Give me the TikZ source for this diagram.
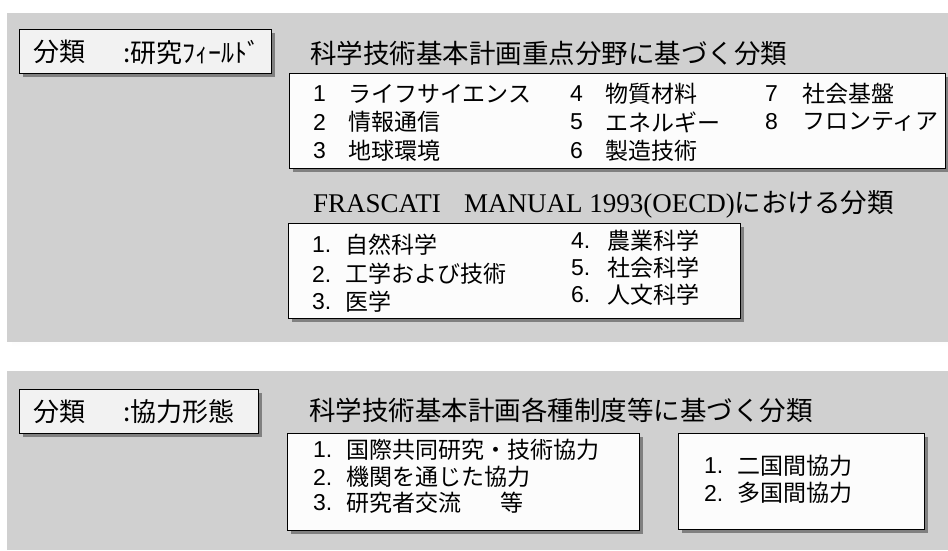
\documentclass[tikz,border=0pt]{standalone}
\usepackage{fontspec}
\usetikzlibrary{shadows}
\newfontfamily\jp{Noto Sans CJK JP}
\newfontfamily\tms{Liberation Serif}
\newfontfamily\ars{Liberation Sans}
\definecolor{panel}{HTML}{D0D0D0}
\definecolor{shade}{HTML}{808080}
\definecolor{boxfill}{HTML}{FCFCFC}
\definecolor{labfill}{HTML}{F2F2F2}
\tikzset{
  whitebox/.style={fill=boxfill, draw=black, line width=1pt, inner sep=0pt,
    general shadow={fill=shade, shadow xshift=4pt, shadow yshift=-4pt}},
  labelbox/.style={fill=labfill, draw=black, line width=1pt, inner sep=0pt,
    general shadow={fill=shade, shadow xshift=4pt, shadow yshift=-4pt}},
  txt/.style={anchor=west, inner sep=0pt, font=\jp\fontsize{23}{27}\selectfont},
  num/.style={anchor=west, inner sep=0pt, font=\ars\fontsize{23}{27}\selectfont},
  head/.style={anchor=west, inner sep=0pt, font=\jp\fontsize{26.5}{30}\selectfont},
  lab/.style={anchor=west, inner sep=0pt, font=\jp\fontsize{26}{30}\selectfont}
}
\begin{document}
\begin{tikzpicture}[x=1pt,y=-1pt]
\useasboundingbox (0,0) rectangle (948,550);
\fill[white] (0,0) rectangle (948,550);
% panels
\fill[shade] (12,18) rectangle (948,347);
\fill[panel] (7,13) rectangle (948,342);
\fill[panel] (7,371) rectangle (948,550);

% ---- top panel ----
\node[labelbox, minimum width=252pt, minimum height=44pt] (lb1) at (145,51) {};
\node[lab] (lb1a) at (33,52) {分類};
\node[lab] (lb1b) at (123,52) {:研究ﾌｨｰﾙﾄﾞ};

\node[head] (h1) at (310,53) {科学技術基本計画重点分野に基づく分類};

\node[whitebox, minimum width=656pt, minimum height=95pt] (b1) at (617,120.5) {};
\node[num] (n1) at (313,94) {1};
\node[txt] (t1) at (348,94) {ライフサイエンス};
\node[num] (n2) at (313,122) {2};
\node[txt] (t2) at (348,122) {情報通信};
\node[num] (n3) at (313,151) {3};
\node[txt] (t3) at (348,151) {地球環境};
\node[num] (n4) at (570,94) {4};
\node[txt] (t4) at (605,94) {物質材料};
\node[num] (n5) at (570,122) {5};
\node[txt] (t5) at (605,122) {エネルギー};
\node[num] (n6) at (570,151) {6};
\node[txt] (t6) at (605,151) {製造技術};
\node[num] (n7) at (765,94) {7};
\node[txt] (t7) at (802,94) {社会基盤};
\node[num] (n8) at (765,122) {8};
\node[txt] (t8) at (802,122) {フロンティア};

\node[anchor=west, inner sep=0pt, font=\tms\fontsize{27}{30}\selectfont] (h2a) at (313,204) {FRASCATI};
\node[anchor=east, inner sep=0pt] (h2b) at (894,204)
  {{\tms\fontsize{27}{30}\selectfont MANUAL 1993(OECD)}{\jp\fontsize{26.5}{30}\selectfont における分類}};

\node[whitebox, minimum width=452pt, minimum height=95pt] (b2) at (514,270.5) {};
\node[num] (f1n) at (312,245) {1.};
\node[txt] (f1) at (345,245) {自然科学};
\node[num] (f2n) at (312,274) {2.};
\node[txt] (f2) at (345,274) {工学および技術};
\node[num] (f3n) at (312,302) {3.};
\node[txt] (f3) at (345,302) {医学};
\node[num] (f4n) at (571,241) {4.};
\node[txt] (f4) at (607,241) {農業科学};
\node[num] (f5n) at (571,268) {5.};
\node[txt] (f5) at (607,268) {社会科学};
\node[num] (f6n) at (571,295) {6.};
\node[txt] (f6) at (607,295) {人文科学};

% ---- bottom panel ----
\node[labelbox, minimum width=239pt, minimum height=44pt] (lb2) at (138.5,411) {};
\node[lab] (lb2a) at (33,412) {分類};
\node[lab] (lb2b) at (123,412) {:協力形態};

\node[head] (h3) at (309,410) {科学技術基本計画各種制度等に基づく分類};

\node[whitebox, minimum width=352pt, minimum height=97pt] (b3) at (463,481.5) {};
\node[num] (c1n) at (313,450) {1.};
\node[txt] (c1) at (346,450) {国際共同研究・技術協力};
\node[num] (c2n) at (313,477) {2.};
\node[txt] (c2) at (346,477) {機関を通じた協力};
\node[num] (c3n) at (313,503) {3.};
\node[txt] (c3) at (346,503) {研究者交流};
\node[txt] (c3b) at (500,503) {等};

\node[whitebox, minimum width=246pt, minimum height=96pt] (b4) at (801,481) {};
\node[num] (d1n) at (704,466) {1.};
\node[txt] (d1) at (737,466) {二国間協力};
\node[num] (d2n) at (704,493) {2.};
\node[txt] (d2) at (737,493) {多国間協力};
\end{tikzpicture}
\end{document}
